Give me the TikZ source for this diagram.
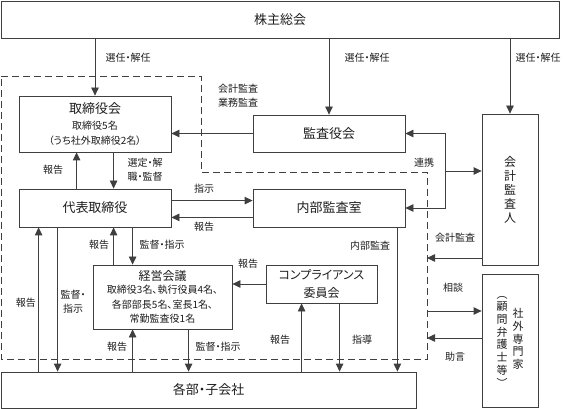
\documentclass[tikz,border=0pt]{standalone}
\usepackage{fontspec}
\setmainfont{Noto Sans CJK JP}[RawFeature=+palt]
\usetikzlibrary{arrows.meta}
\definecolor{linegray}{HTML}{3F3F3F}
\definecolor{textgray}{HTML}{1E1E1E}
\newcommand{\boxsz}{\fontsize{13}{15}\selectfont}
\newcommand{\midsz}{\fontsize{12}{14.5}\selectfont}
\newcommand{\labsz}{\fontsize{10}{14}\selectfont}

\begin{document}
\begin{tikzpicture}[x=1pt,y=-1pt,line width=0.8pt,>={Triangle[length=8pt,width=7.5pt]},
    box/.style={draw=linegray,fill=white,text=textgray,inner sep=2pt,font=\boxsz},
    lab/.style={text=textgray,inner sep=1pt,font=\labsz,align=center},
    conn/.style={draw=linegray,->},
    group/.style={draw=linegray,dash pattern=on 7pt off 4pt}]
    \useasboundingbox (0,0) rectangle (563,409);

    \draw[group] (1,76) -- (201,76) -- (201,172) -- (427,172) -- (427,359) -- (1,359) -- cycle;

    \node[box,minimum width=558,minimum height=37] (kabunushi) at (280,19.5) {株主総会};
    \node[box,minimum width=152,minimum height=56,align=center] (torikai) at (95,124) {取締役会\\[1pt]{\labsz 取締役5名}\\{\labsz （うち社外取締役2名）}};
    \node[box,minimum width=152,minimum height=37] (kansa) at (329,133.5) {監査役会};
    \node[box,minimum width=56,minimum height=151,align=center,font=\fontsize{12}{14}\selectfont] (kaikei) at (510,189.5) {会\\計\\監\\査\\人};
    \node[box,minimum width=152,minimum height=38] (daihyo) at (95,208) {代表取締役};
    \node[box,minimum width=152,minimum height=38] (naibu) at (329,208) {内部監査室};
    \node[box,minimum width=139,minimum height=64,align=center,font=\midsz] (keiei) at (162.5,297) {経営会議\\[-1.5pt]{\labsz 取締役3名、執行役員4名、}\\{\labsz 各部部長5名、室長1名、}\\{\labsz 常勤監査役1名}};
    \node[box,minimum width=111,minimum height=38,align=center,font=\midsz] (compl) at (321.5,284) {コンプライアンス\\[3pt]委員会};
    \node[box,minimum width=56,minimum height=133,font=\fontsize{11}{12.3}\selectfont] (senmon) at (510,340.5) {\begin{tabular}{@{}c@{}}︵\\顧\\問\\弁\\護\\士\\等\\︶\end{tabular}\hspace{5pt}\begin{tabular}{@{}c@{}}社\\外\\専\\門\\家\end{tabular}};
    \node[box,minimum width=415,minimum height=36] (kanbu) at (208.5,390) {各部・子会社};

    \node[lab] (sennin1) at (128,58) {選任・解任};
    \node[lab] (sennin2) at (367,58) {選任・解任};
    \node[lab] (sennin3) at (538,58) {選任・解任};
    \node[lab] (kansanaiyo) at (238,95.5) {会計監査\\業務監査};
    \node[lab] (hokoku1) at (53,170) {報告};
    \node[lab,align=left] (sentei) at (145,170) {選定・解\\職・監督};
    \node[lab] (shiji1) at (204,189) {指示};
    \node[lab] (hokoku2) at (204,227) {報告};
    \node[lab] (renkeilab) at (424,163) {連携};
    \node[lab] (hokoku3) at (99,245) {報告};
    \node[lab] (kantoku1) at (162,245) {監督・指示};
    \node[lab] (hokoku4) at (26,303) {報告};
    \node[lab] (kantoku2) at (73,301.5) {監督・\\指示};
    \node[lab] (hokoku5) at (248,264) {報告};
    \node[lab] (naibulab) at (370,246) {内部監査};
    \node[lab] (kaikeilab) at (455,238) {会計監査};
    \node[lab] (hokoku6) at (117,347) {報告};
    \node[lab] (kantoku3) at (218,347) {監督・指示};
    \node[lab] (hokoku7) at (280,340) {報告};
    \node[lab] (shido) at (362,340) {指導};
    \node[lab] (sodanlab) at (453,288) {相談};
    \node[lab] (jogenlab) at (455,357) {助言};

    \coordinate (renkei) at (445,171);
    \coordinate (kaikeiend) at (427,258);
    \coordinate (sodan) at (427,311);
    \coordinate (jogen) at (427,338);

    % shareholders meeting
    \draw[conn] (kabunushi.south -| torikai.north) -- (torikai.north);
    \draw[conn] (kabunushi.south -| kansa.north) -- (kansa.north);
    \draw[conn] (kabunushi.south -| kaikei.north) -- (kaikei.north);

    \draw[conn] (kansa.west) -- (kansa.west -| torikai.east);
    \draw[conn] ([xshift=58]daihyo.north west) -- ([xshift=58]torikai.south west);
    \draw[conn] ([xshift=95]torikai.south west) -- ([xshift=95]daihyo.north west);
    \draw[conn] ([yshift=-12]daihyo.north east) -- ([yshift=-12]naibu.north west);
    \draw[conn] ([yshift=10]naibu.south west) -- ([yshift=10]daihyo.south east);

    % auditors
    \draw[draw=linegray,<->] (kansa.east) -- ++(40,0) |- (naibu.east);
    \draw[conn] (renkei) -- (renkei -| kaikei.west);
    \draw[conn] (kaikeiend -| kaikei.west) -- (kaikeiend);

    \draw[conn] ([xshift=21]keiei.north west) -- ([xshift=21]keiei.north west |- daihyo.south);
    \draw[conn] ([xshift=40]keiei.north west |- daihyo.south) -- ([xshift=40]keiei.north west);
    \draw[conn] ([xshift=38]kanbu.north west) -- ([xshift=38]kanbu.north west |- daihyo.south);
    \draw[conn] ([xshift=39]daihyo.south west) -- ([xshift=39]daihyo.south west |- kanbu.north);
    \draw[conn] (compl.west) -- (compl.west -| keiei.east);
    \draw[conn] ([xshift=40]keiei.south west |- kanbu.north) -- ([xshift=40]keiei.south west);
    \draw[conn] ([xshift=96]keiei.south west) -- ([xshift=96]keiei.south west |- kanbu.north);
    \draw[conn] ([xshift=-8]naibu.south east) -- ([xshift=-8]naibu.south east |- kanbu.north);
    \draw[conn] ([xshift=36]compl.south west |- kanbu.north) -- ([xshift=36]compl.south west);
    \draw[conn] ([xshift=74]compl.south west) -- ([xshift=74]compl.south west |- kanbu.north);

    % outside experts
    \draw[conn] (sodan) -- (sodan -| senmon.west);
    \draw[conn] (jogen -| senmon.west) -- (jogen);
\end{tikzpicture}
\end{document}
